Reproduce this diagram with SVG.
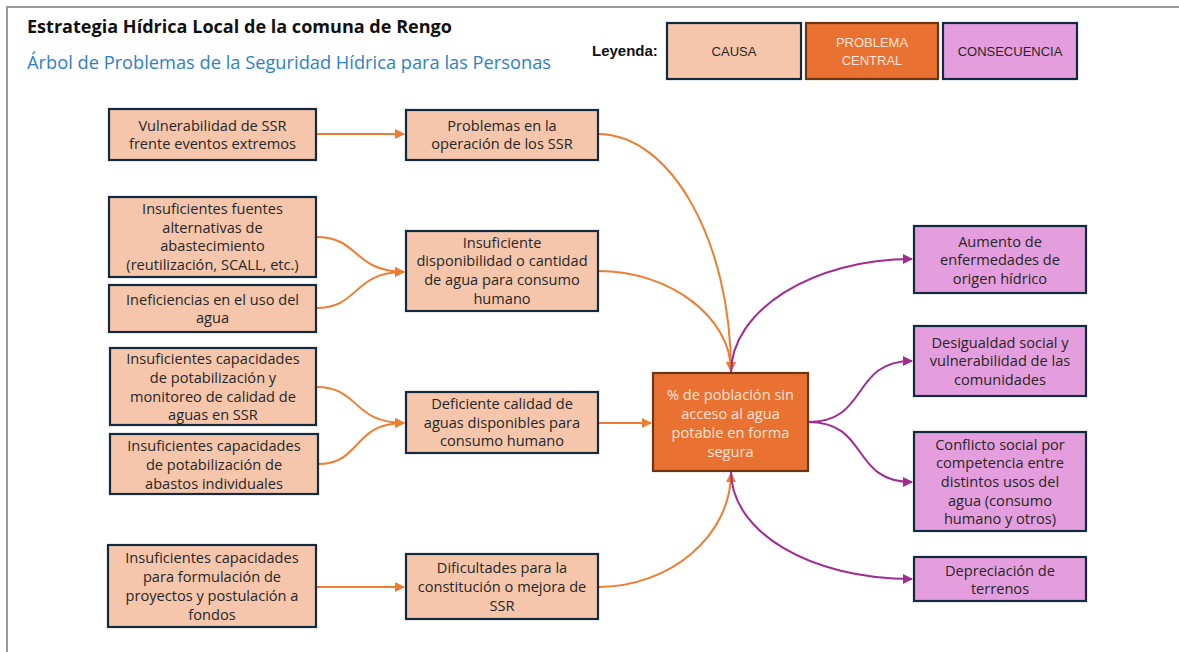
<svg xmlns="http://www.w3.org/2000/svg" width="1179" height="652" viewBox="0 0 1179 652">
<defs>
<style>
text{font-family:"Open Sans","Liberation Sans",Arial,sans-serif;}
.lg{font-family:"Liberation Sans",Arial,sans-serif;}
.t{font-size:14.6px;fill:#262626;text-anchor:middle;}
.tc{font-size:14.6px;fill:#FCE4D6;text-anchor:middle;}
.cause{fill:#F6C6AC;stroke:#13293D;stroke-width:2.2;}
.center{fill:#E97132;stroke:#6E3510;stroke-width:2.2;}
.cons{fill:#E59EDD;stroke:#13293D;stroke-width:2.2;}
.co{fill:none;stroke:#ED7D31;stroke-width:2;}
.cp{fill:none;stroke:#A02B93;stroke-width:2;}
</style>
<marker id="ao" viewBox="0 0 10 10" refX="9" refY="5" markerWidth="5" markerHeight="5" orient="auto" markerUnits="strokeWidth">
<path d="M0,0 L10,5 L0,10 z" fill="#ED7D31"/>
</marker>
<marker id="ap" viewBox="0 0 10 10" refX="9" refY="5" markerWidth="5" markerHeight="5" orient="auto" markerUnits="strokeWidth">
<path d="M0,0 L10,5 L0,10 z" fill="#A02B93"/>
</marker>
</defs>
<rect x="0" y="0" width="1179" height="652" fill="#ffffff"/>
<path d="M7,660 L7,7 L1190,7" fill="none" stroke="#9a9a9a" stroke-width="2"/>

<g id="title">
<text x="27" y="33" font-size="17" font-weight="bold" fill="#111" textLength="425" lengthAdjust="spacingAndGlyphs">Estrategia Hídrica Local de la comuna de Rengo</text>
<text x="27" y="69" font-size="17.5" fill="#2E80C8" textLength="524" lengthAdjust="spacingAndGlyphs">Árbol de Problemas de la Seguridad Hídrica para las Personas</text>
</g>

<g id="legend" class="lg">
<text class="lg" x="592" y="56" font-size="15" font-weight="bold" fill="#111">Leyenda:</text>
<rect class="cause" x="667" y="23" width="134" height="56"/>
<text class="lg" x="734" y="56" font-size="13" fill="#262626" text-anchor="middle">CAUSA</text>
<rect class="center" x="806" y="23" width="132" height="56"/>
<text class="lg" x="872" y="47" font-size="13" fill="#FCE4D6" text-anchor="middle">PROBLEMA</text>
<text class="lg" x="872" y="65" font-size="13" fill="#FCE4D6" text-anchor="middle">CENTRAL</text>
<rect class="cons" x="943" y="23" width="134" height="56"/>
<text class="lg" x="1010" y="56" font-size="13" fill="#262626" text-anchor="middle">CONSECUENCIA</text>
</g>

<g id="connectors">
<path class="co" d="M316,134 L404,134" marker-end="url(#ao)"/>
<path class="co" d="M316,237 C360,237 352,271 404,272" marker-end="url(#ao)"/>
<path class="co" d="M316,308 C360,308 352,272 404,272" marker-end="url(#ao)"/>
<path class="co" d="M316,387 C360,387 352,423 404,423" marker-end="url(#ao)"/>
<path class="co" d="M318,464 C362,464 352,423 404,423" marker-end="url(#ao)"/>
<path class="co" d="M316,587 L404,587" marker-end="url(#ao)"/>
<path class="co" d="M598,134 C671,134 731,242 731,371" marker-end="url(#ao)"/>
<path class="co" d="M598,271 C671,271 731,318 731,371" marker-end="url(#ao)"/>
<path class="co" d="M598,423 L651,423" marker-end="url(#ao)"/>
<path class="co" d="M598,587 C671,587 731,535 731,473" marker-end="url(#ao)"/>
<path class="cp" d="M731,373 C731,310 813,259 912,259" marker-end="url(#ap)"/>
<path class="cp" d="M808,422 C870,422 850,361 912,361" marker-end="url(#ap)"/>
<path class="cp" d="M808,422 C870,422 850,482 912,482" marker-end="url(#ap)"/>
<path class="cp" d="M731,471 C731,532 810,579 912,579" marker-end="url(#ap)"/>
</g>

<g id="n-vulnerabilidad">
<rect class="cause" x="109" y="109" width="207" height="51"/>
<text class="t" x="212.5" y="131">Vulnerabilidad de SSR</text>
<text class="t" x="212.5" y="149">frente eventos extremos</text>
</g>
<g id="n-problemas-operacion">
<rect class="cause" x="406" y="110" width="192" height="50"/>
<text class="t" x="502" y="131">Problemas en la</text>
<text class="t" x="502" y="149">operación de los SSR</text>
</g>
<g id="n-fuentes">
<rect class="cause" x="109" y="197" width="207" height="80"/>
<text class="t" x="212.5" y="214">Insuficientes fuentes</text>
<text class="t" x="212.5" y="233">alternativas de</text>
<text class="t" x="212.5" y="251">abastecimiento</text>
<text class="t" x="212.5" y="270">(reutilización, SCALL, etc.)</text>
</g>
<g id="n-ineficiencias">
<rect class="cause" x="109" y="285" width="207" height="47"/>
<text class="t" x="212.5" y="305">Ineficiencias en el uso del</text>
<text class="t" x="212.5" y="323">agua</text>
</g>
<g id="n-disponibilidad">
<rect class="cause" x="406" y="231" width="192" height="80"/>
<text class="t" x="502" y="248">Insuficiente</text>
<text class="t" x="502" y="266">disponibilidad o cantidad</text>
<text class="t" x="502" y="285">de agua para consumo</text>
<text class="t" x="502" y="304">humano</text>
</g>
<g id="n-monitoreo">
<rect class="cause" x="110" y="348" width="206" height="77"/>
<text class="t" x="213" y="364">Insuficientes capacidades</text>
<text class="t" x="213" y="383">de potabilización y</text>
<text class="t" x="213" y="402">monitoreo de calidad de</text>
<text class="t" x="213" y="420">aguas en SSR</text>
</g>
<g id="n-abastos">
<rect class="cause" x="110" y="434" width="208" height="60"/>
<text class="t" x="214" y="451">Insuficientes capacidades</text>
<text class="t" x="214" y="470">de potabilización de</text>
<text class="t" x="214" y="489">abastos individuales</text>
</g>
<g id="n-deficiente">
<rect class="cause" x="406" y="392" width="192" height="61"/>
<text class="t" x="502" y="409">Deficiente calidad de</text>
<text class="t" x="502" y="428">aguas disponibles para</text>
<text class="t" x="502" y="446">consumo humano</text>
</g>
<g id="n-formulacion">
<rect class="cause" x="108" y="545" width="208" height="82"/>
<text class="t" x="212" y="563">Insuficientes capacidades</text>
<text class="t" x="212" y="582">para formulación de</text>
<text class="t" x="212" y="601">proyectos y postulación a</text>
<text class="t" x="212" y="620">fondos</text>
</g>
<g id="n-dificultades">
<rect class="cause" x="406" y="554" width="192" height="65"/>
<text class="t" x="502" y="573">Dificultades para la</text>
<text class="t" x="502" y="592">constitución o mejora de</text>
<text class="t" x="502" y="611">SSR</text>
</g>
<g id="n-central">
<rect class="center" x="653" y="373" width="155" height="98"/>
<text class="tc" x="730.5" y="400">% de población sin</text>
<text class="tc" x="730.5" y="419">acceso al agua</text>
<text class="tc" x="730.5" y="438">potable en forma</text>
<text class="tc" x="730.5" y="457">segura</text>
</g>
<g id="n-aumento">
<rect class="cons" x="914" y="226" width="172" height="67"/>
<text class="t" x="1000" y="247">Aumento de</text>
<text class="t" x="1000" y="265">enfermedades de</text>
<text class="t" x="1000" y="284">origen hídrico</text>
</g>
<g id="n-desigualdad">
<rect class="cons" x="914" y="326" width="172" height="70"/>
<text class="t" x="1000" y="348">Desigualdad social y</text>
<text class="t" x="1000" y="366">vulnerabilidad de las</text>
<text class="t" x="1000" y="385">comunidades</text>
</g>
<g id="n-conflicto">
<rect class="cons" x="914" y="432" width="172" height="99"/>
<text class="t" x="1000" y="450">Conflicto social por</text>
<text class="t" x="1000" y="468">competencia entre</text>
<text class="t" x="1000" y="487">distintos usos del</text>
<text class="t" x="1000" y="506">agua (consumo</text>
<text class="t" x="1000" y="524">humano y otros)</text>
</g>
<g id="n-depreciacion">
<rect class="cons" x="914" y="557" width="172" height="44"/>
<text class="t" x="1000" y="576">Depreciación de</text>
<text class="t" x="1000" y="594">terrenos</text>
</g>
</svg>
